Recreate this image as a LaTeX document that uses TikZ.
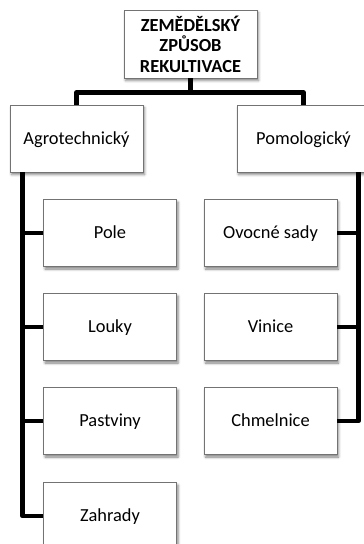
\documentclass[tikz,border=0pt]{standalone}
\usepackage{fontspec}
\setmainfont{Carlito}
\usetikzlibrary{calc,shadows.blur}
\begin{document}
\begin{tikzpicture}[x=1pt,y=-1pt,
  frame/.style={draw=black!55, line width=0.9pt, fill=white,
    minimum width=133pt, minimum height=67pt, inner sep=0pt,
    font=\fontsize{18.4}{20.5}\selectfont,
    blur shadow={shadow xshift=1.5pt, shadow yshift=-2.5pt,
      shadow blur radius=2.5pt, shadow opacity=50}},
  box/.style={frame, text height=11.8pt, text depth=0pt},
  link/.style={line width=4.5pt, black, line join=round}]
\useasboundingbox (0,0) rectangle (364,544);

% root and the two branches
\node[frame, minimum height=68pt, align=center] (root) at (190.5,44)
  {\bfseries ZEMĚDĚLSKÝ\\\bfseries ZPŮSOB\\\bfseries REKULTIVACE};
\node[box] (agro) at (76.5,138.5) {Agrotechnický};
\node[box] (pomo) at (303.5,138.5) {Pomologický};

% children of the agrotechnical branch
\node[box] (pole)  at (110,233) {Pole};
\node[box] (louky) at (110,327) {Louky};
\node[box] (past)  at (110,421) {Pastviny};
\node[box] (zahr)  at (110,516) {Zahrady};

% children of the pomological branch
\node[box] (ovoc) at (270.5,233) {Ovocné sady};
\node[box] (vini) at (270.5,327) {Vinice};
\node[box] (chme) at (270.5,421) {Chmelnice};

% root to branches
\coordinate (bus) at ($(root.south)+(0,14)$);
\draw[link] (root.south) -- (bus) -| (agro.north);
\draw[link] (bus) -| (pomo.north);

% left spine
\coordinate (lsp) at ($(agro.south west)+(13,0)$);
\draw[link] (lsp) |- (zahr.west);
\foreach \c in {pole,louky,past}
  \draw[link] (lsp |- \c.west) -- (\c.west);

% right spine
\coordinate (rsp) at ($(pomo.south east)+(-12,0)$);
\draw[link] (rsp) |- (chme.east);
\foreach \c in {ovoc,vini}
  \draw[link] (rsp |- \c.east) -- (\c.east);
\end{tikzpicture}
\end{document}
